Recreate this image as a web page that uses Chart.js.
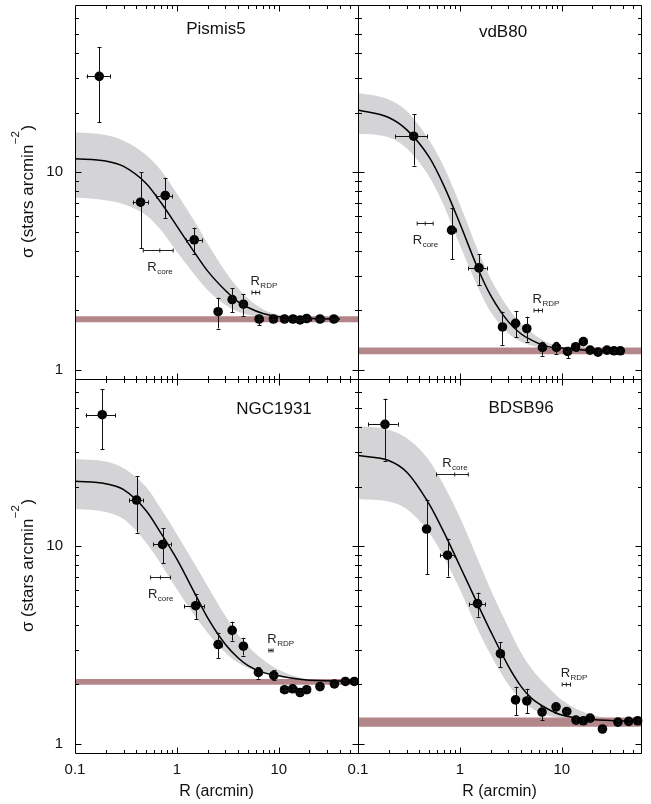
<!DOCTYPE html>
<html>
<head>
<meta charset="utf-8">
<script src="https://cdn.jsdelivr.net/npm/chart.js@4/dist/chart.umd.min.js"></script>
<style>
html,body{margin:0;padding:0;background:#fff;}
#wrap{position:relative;width:651px;height:804px;overflow:hidden;}
canvas{position:absolute;left:0;top:0;}
</style>
</head>
<body>
<div id="wrap">
<canvas id="c0" width="651" height="804"></canvas>
<canvas id="c1" width="651" height="804"></canvas>
<canvas id="c2" width="651" height="804"></canvas>
<canvas id="c3" width="651" height="804"></canvas>
</div>
<script>
// ---------- tick values ----------
const xMajor = [0.1, 1, 10];
const xMinor = [0.2,0.3,0.4,0.5,0.6,0.7,0.8,0.9,2,3,4,5,6,7,8,9,20,30,40,50];
const yMajor = [1, 10];
const yMinor = [2,3,4,5,6,7,8,9,20,30,40,50,60];

// ---------- fit radius grids ----------
const fitRTop = [0.1,0.2,0.3,0.5,0.7,1,1.5,2,3,4,5,7,10,20,40];
const fitRBot = [0.1,0.2,0.3,0.5,0.7,1,1.5,2,3,4,5,7,10,20,60];

// ---------- Pismis5 ----------
const p5R     = [0.173,0.44,0.769,1.48,2.54,3.49,4.5,6.41,8.87,11.4,13.8,16.2,18.8,25.4,34.8];
const p5Sig   = [30.5,7.05,7.62,4.55,1.97,2.27,2.15,1.81,1.81,1.81,1.81,1.79,1.82,1.81,1.81];
const p5SigHi = [43,9.96,9.36,5.24,2.32,2.59,2.42,1.90,1.88,1.87,1.86,1.84,1.86,1.84,1.84];
const p5SigLo = [17.9,4.12,5.84,3.85,1.62,1.96,1.88,1.69,1.74,1.75,1.76,1.74,1.78,1.78,1.78];
const p5RLo   = [0.130,0.368,0.630,1.24,2.40,3.30,4.30,5.85,8.10,10.4,12.6,14.8,17.2,23.2,31.8];
const p5RHi   = [0.220,0.523,0.906,1.77,2.70,3.70,4.70,7.02,9.70,12.5,15.1,17.7,20.6,27.8,38.1];
const p5Fit   = [11.7,11.4,10.7,8.77,7.0,5.34,3.91,3.17,2.52,2.21,2.07,1.93,1.86,1.82,1.81];
const p5FitHi = [15.9,15.4,14.4,12.2,10.2,7.8,5.61,4.36,3.14,2.59,2.3,2.03,1.9,1.83,1.81];
const p5FitLo = [7.45,7.22,6.89,6.06,5.09,3.96,3.02,2.54,2.13,1.97,1.9,1.85,1.82,1.81,1.81];
const p5Bg    = [1.74, 1.87];
const p5Core  = [0.468, 0.68, 0.92, 4.04];
const p5Rdp   = [5.46, 5.95, 6.5, 2.48];

// ---------- vdB80 ----------
const vdR     = [0.352,0.829,1.54,2.62,3.52,4.54,6.47,8.87,11.4,13.7,16.3,19.0,22.7,27.8,32.6,37.6];
const vdSig   = [15.2,5.09,3.28,1.65,1.72,1.62,1.30,1.30,1.24,1.31,1.39,1.26,1.23,1.26,1.25,1.25];
const vdSigHi = [19.6,6.56,3.85,1.97,1.99,1.86,1.39,1.39,1.31,1.37,1.43,1.29,1.26,1.28,1.27,1.27];
const vdSigLo = [10.8,3.62,2.69,1.34,1.46,1.39,1.18,1.21,1.15,1.25,1.35,1.22,1.20,1.24,1.23,1.23];
const vdRLo   = [0.231,0.757,1.21,2.62,3.52,4.54,5.95,8.15,10.5,13.7,16.3,19.0,22.7,27.8,32.6,37.6];
const vdRHi   = [0.478,0.908,1.83,2.62,3.52,4.54,7.05,9.65,12.4,13.7,16.3,19.0,22.7,27.8,32.6,37.6];
const vdFit   = [20.6,18.9,16.4,11.9,8.5,5.5,3.26,2.39,1.75,1.52,1.42,1.32,1.29,1.25,1.24];
const vdFitHi = [25.2,23.3,20.4,14.5,10.6,6.89,4.04,2.90,2.05,1.71,1.55,1.39,1.31,1.25,1.24];
const vdFitLo = [15.7,15.0,13.2,9.47,6.73,4.28,2.63,1.97,1.53,1.39,1.33,1.29,1.27,1.24,1.24];
const vdBg    = [1.20, 1.30];
const vdCore  = [0.381, 0.457, 0.547, 5.51];
const vdRdp   = [5.35, 5.9, 6.47, 2.01];

// ---------- NGC1931 ----------
const ngR     = [0.185,0.402,0.724,1.53,2.54,3.49,4.5,6.32,8.93,11.4,13.7,16.2,18.8,25.4,35.2,45.1,55.2];
const ngSig   = [46.2,17.1,10.2,5.0,3.18,3.75,3.12,2.30,2.22,1.88,1.90,1.82,1.88,1.95,2.01,2.07,2.07];
const ngSigHi = [62.1,22.6,12.3,5.71,3.65,4.15,3.44,2.44,2.36,1.95,1.97,1.88,1.94,2.0,2.05,2.1,2.1];
const ngSigLo = [30.9,11.7,8.2,4.26,2.72,3.33,2.8,2.14,2.11,1.81,1.83,1.76,1.82,1.9,1.97,2.04,2.04];
const ngRLo   = [0.127,0.341,0.586,1.18,2.35,3.49,4.5,5.8,8.2,10.4,12.5,15.0,17.5,24.0,33.5,43.0,53.0];
const ngRHi   = [0.247,0.461,0.867,1.85,2.75,3.49,4.5,6.9,9.7,12.4,15.0,17.4,20.2,26.9,37.0,47.2,57.5];
const ngFit   = [21.3,20.7,19.3,15.1,11.6,8.59,5.77,4.35,3.18,2.72,2.49,2.30,2.21,2.10,2.08];
const ngFitHi = [27.6,26.8,24.8,19.9,15.4,11.5,8.1,6.29,4.43,3.57,3.12,2.67,2.37,2.12,2.08];
const ngFitLo = [15.4,14.9,13.7,10.4,8.1,6.05,4.43,3.65,2.89,2.57,2.42,2.29,2.21,2.10,2.08];
const ngBg    = [1.99, 2.13];
const ngCore  = [0.552, 0.69, 0.867, 7.02];
const ngRdp   = [8.0, 8.4, 8.8, 3.0];

// ---------- BDSB96 ----------
const bdR     = [0.184,0.471,0.757,1.49,2.5,3.52,4.54,6.41,8.79,11.2,13.8,16.3,19.0,25.1,35.6,45.4,55.6];
const bdSig   = [41.3,12.2,9.0,5.12,2.86,1.67,1.65,1.45,1.54,1.46,1.32,1.31,1.35,1.19,1.29,1.30,1.31];
const bdSigHi = [55.7,17.2,10.9,5.82,3.27,1.95,1.90,1.56,1.61,1.52,1.37,1.36,1.40,1.22,1.32,1.33,1.34];
const bdSigLo = [27.1,7.21,7.02,4.4,2.44,1.40,1.43,1.32,1.43,1.38,1.27,1.26,1.30,1.16,1.26,1.27,1.28];
const bdRLo   = [0.126,0.471,0.637,1.23,2.32,3.52,4.54,6.0,8.3,10.6,13.8,16.3,19.0,23.8,35.6,45.4,55.6];
const bdRHi   = [0.245,0.471,0.879,1.76,2.7,3.52,4.54,6.85,9.3,11.8,13.8,16.3,19.0,26.4,35.6,45.4,55.6];
const bdFit   = [28.7,27.1,23.7,16.3,11.7,7.94,5.08,3.72,2.47,1.95,1.71,1.52,1.40,1.33,1.30];
const bdFitHi = [40.5,38.8,35.2,27.1,20.2,14.0,8.59,6.05,3.87,2.89,2.42,1.99,1.67,1.40,1.31];
const bdFitLo = [17.3,16.8,15.4,11.7,8.77,6.05,3.79,2.83,1.99,1.67,1.52,1.40,1.35,1.30,1.29];
const bdBg    = [1.22, 1.36];
const bdCore  = [0.59, 0.89, 1.21, 23.2];
const bdRdp   = [10.1, 11.1, 12.2, 2.01];

// ---------- styling ----------
const FONT = "'Liberation Sans', Arial, Helvetica, sans-serif";
const GRAY = '#d4d4d6';
const ROSE = '#b3878a';
const X_MIN = 0.1, X_MAX = 60, Y_MIN = 0.9, Y_MAX = 70;

const panels = [
  {id:'c0', area:[75,5,358,379], name:'Pismis5', titlePos:[216,33.5], fitR:fitRTop,
   R:p5R, sig:p5Sig, sigHi:p5SigHi, sigLo:p5SigLo, RLo:p5RLo, RHi:p5RHi,
   fit:p5Fit, fitHi:p5FitHi, fitLo:p5FitLo, bg:p5Bg, core:p5Core, rdp:p5Rdp,
   coreBelow:true, yLabels:true, xLabels:false},
  {id:'c1', area:[358,5,641,379], name:'vdB80', titlePos:[503,37], fitR:fitRTop,
   R:vdR, sig:vdSig, sigHi:vdSigHi, sigLo:vdSigLo, RLo:vdRLo, RHi:vdRHi,
   fit:vdFit, fitHi:vdFitHi, fitLo:vdFitLo, bg:vdBg, core:vdCore, rdp:vdRdp,
   coreBelow:true, yLabels:false, xLabels:false},
  {id:'c2', area:[75,379,358,753], name:'NGC1931', titlePos:[274,413.5], fitR:fitRBot,
   R:ngR, sig:ngSig, sigHi:ngSigHi, sigLo:ngSigLo, RLo:ngRLo, RHi:ngRHi,
   fit:ngFit, fitHi:ngFitHi, fitLo:ngFitLo, bg:ngBg, core:ngCore, rdp:ngRdp,
   coreBelow:true, yLabels:true, xLabels:true},
  {id:'c3', area:[358,379,641,753], name:'BDSB96', titlePos:[521,413], fitR:fitRBot,
   R:bdR, sig:bdSig, sigHi:bdSigHi, sigLo:bdSigLo, RLo:bdRLo, RHi:bdRHi,
   fit:bdFit, fitHi:bdFitHi, fitLo:bdFitLo, bg:bdBg, core:bdCore, rdp:bdRdp,
   coreBelow:false, yLabels:false, xLabels:true}
];

function subText(ctx, main, sub, x, y, align) {
  ctx.save();
  ctx.fillStyle = '#222';
  ctx.textBaseline = 'alphabetic';
  ctx.textAlign = 'left';
  const mf = '13px ' + FONT, sf = '8px ' + FONT;
  ctx.font = mf; const w1 = ctx.measureText(main).width;
  ctx.font = sf; const w2 = ctx.measureText(sub).width;
  let x0 = align === 'center' ? x - (w1 + w2) / 2 : x;
  ctx.font = mf; ctx.fillText(main, x0, y);
  ctx.font = sf; ctx.fillText(sub, x0 + w1 + 0.5, y + 3);
  ctx.restore();
}

function hbar(ctx, xs, ys, m) {
  const y = Math.round(ys.getPixelForValue(m[3])) + 0.5;
  const a = xs.getPixelForValue(m[0]), c = xs.getPixelForValue(m[1]), b = xs.getPixelForValue(m[2]);
  ctx.beginPath();
  ctx.moveTo(a, y); ctx.lineTo(b, y);
  ctx.moveTo(a, y - 2); ctx.lineTo(a, y + 2);
  ctx.moveTo(b, y - 2); ctx.lineTo(b, y + 2);
  ctx.moveTo(c, y - 2); ctx.lineTo(c, y + 2);
  ctx.stroke();
  return {a, b, c, y};
}

function makeDecor(p) {
  return {
    id: 'decor_' + p.id,
    afterDatasetsDraw(chart) {
      const {ctx, scales: {x, y}} = chart;
      ctx.save();
      ctx.strokeStyle = '#111';
      ctx.lineWidth = 1;
      // error bars
      for (let i = 0; i < p.R.length; i++) {
        const px = x.getPixelForValue(p.R[i]);
        const py = y.getPixelForValue(p.sig[i]);
        const t = y.getPixelForValue(p.sigHi[i]);
        const b = y.getPixelForValue(p.sigLo[i]);
        const cx = Math.round(px) + 0.5;
        ctx.beginPath();
        ctx.moveTo(cx, t); ctx.lineTo(cx, b);
        ctx.moveTo(cx - 2, Math.round(t) + 0.5); ctx.lineTo(cx + 2, Math.round(t) + 0.5);
        ctx.moveTo(cx - 2, Math.round(b) + 0.5); ctx.lineTo(cx + 2, Math.round(b) + 0.5);
        const l = x.getPixelForValue(p.RLo[i]);
        const r = x.getPixelForValue(p.RHi[i]);
        if (r - l > 1) {
          const cy = Math.round(py) + 0.5;
          ctx.moveTo(l, cy); ctx.lineTo(r, cy);
          ctx.moveTo(Math.round(l) + 0.5, cy - 2); ctx.lineTo(Math.round(l) + 0.5, cy + 2);
          ctx.moveTo(Math.round(r) + 0.5, cy - 2); ctx.lineTo(Math.round(r) + 0.5, cy + 2);
        }
        ctx.stroke();
      }
      // R_core and R_RDP markers
      ctx.strokeStyle = '#222';
      const core = hbar(ctx, x, y, p.core);
      if (p.coreBelow) subText(ctx, 'R', 'core', core.c, core.y + 20.5, 'center');
      else subText(ctx, 'R', 'core', core.c, core.y - 8, 'center');
      const rdp = hbar(ctx, x, y, p.rdp);
      subText(ctx, 'R', 'RDP', rdp.a - 1.5, rdp.y - 8, 'left');
      ctx.restore();
    },
    afterDraw(chart) {
      const {ctx, chartArea: A, scales: {x, y}} = chart;
      ctx.save();
      ctx.strokeStyle = '#000';
      ctx.lineWidth = 1;
      const L = Math.round(A.left) + 0.5, R = Math.round(A.right) + 0.5;
      const T = Math.round(A.top) + 0.5, B = Math.round(A.bottom) + 0.5;
      ctx.beginPath();
      ctx.moveTo(L, T); ctx.lineTo(R, T); ctx.lineTo(R, B); ctx.lineTo(L, B); ctx.closePath();
      const xt = (v, len) => {
        const px = Math.round(x.getPixelForValue(v)) + 0.5;
        ctx.moveTo(px, B); ctx.lineTo(px, B - len);
        ctx.moveTo(px, T); ctx.lineTo(px, T + len);
      };
      xMajor.forEach(v => { if (v > X_MIN) xt(v, 6); });
      xMinor.forEach(v => xt(v, 3.5));
      const yt = (v, len) => {
        const py = Math.round(y.getPixelForValue(v)) + 0.5;
        ctx.moveTo(L, py); ctx.lineTo(L + len, py);
        ctx.moveTo(R, py); ctx.lineTo(R - len, py);
      };
      yMajor.forEach(v => yt(v, 6));
      yMinor.forEach(v => yt(v, 3.5));
      ctx.stroke();
      // panel title
      ctx.fillStyle = '#111';
      ctx.font = '17px ' + FONT;
      ctx.textAlign = 'center';
      ctx.textBaseline = 'alphabetic';
      ctx.fillText(p.name, p.titlePos[0], p.titlePos[1]);
      // y-axis title
      if (p.yLabels) {
        const cy = (A.top + A.bottom) / 2;
        ctx.translate(28, cy);
        ctx.rotate(-Math.PI / 2);
        const mainF = '17px ' + FONT, supF = '11.5px ' + FONT;
        const s1 = '\u03C3 (stars arcmin', s2 = '\u22122', s3 = ')';
        ctx.font = mainF; const w1 = ctx.measureText(s1).width, w3 = ctx.measureText(s3).width;
        ctx.font = supF; const w2 = ctx.measureText(s2).width;
        let x0 = -(w1 + w2 + w3) / 2;
        ctx.textAlign = 'left';
        ctx.textBaseline = 'middle';
        ctx.font = mainF; ctx.fillText(s1, x0, 0);
        ctx.font = supF; ctx.fillText(s2, x0 + w1 + 0.5, -12);
        ctx.font = mainF; ctx.fillText(s3, x0 + w1 + w2 + 1, 0);
      }
      ctx.restore();
    }
  };
}

function makeChart(p) {
  const pad = {left: p.area[0] - 40, top: p.area[1], right: 651 - p.area[2], bottom: 804 - p.area[3] - 50};
  const xy = (xs, ys) => xs.map((v, i) => ({x: v, y: ys[i]}));
  const flat = (v) => [{x: X_MIN, y: v}, {x: X_MAX, y: v}];
  const base = {pointRadius: 0, borderWidth: 0, borderColor: 'transparent', cubicInterpolationMode: 'monotone'};
  new Chart(document.getElementById(p.id), {
    type: 'line',
    data: {
      datasets: [
        Object.assign({}, base, {data: xy(p.fitR, p.fitHi), fill: '+1', backgroundColor: GRAY, order: 4}),
        Object.assign({}, base, {data: xy(p.fitR, p.fitLo), fill: false, order: 4}),
        Object.assign({}, base, {data: flat(p.bg[1]), fill: '+1', backgroundColor: ROSE, order: 3}),
        Object.assign({}, base, {data: flat(p.bg[0]), fill: false, order: 3}),
        {data: xy(p.fitR, p.fit), borderColor: '#000', borderWidth: 1.5, pointRadius: 0, fill: false,
         cubicInterpolationMode: 'monotone', order: 2},
        {data: xy(p.R, p.sig), showLine: false, pointRadius: 4.8, pointBackgroundColor: '#000',
         pointBorderColor: '#000', pointBorderWidth: 0, pointHoverRadius: 4.8, order: 1, clip: 8}
      ]
    },
    options: {
      responsive: false, animation: false, devicePixelRatio: 1,
      layout: {padding: pad},
      events: [],
      plugins: {legend: {display: false}, tooltip: {enabled: false}},
      scales: {
        x: {
          type: 'logarithmic', position: 'bottom', min: X_MIN, max: X_MAX,
          afterBuildTicks: s => { s.ticks = xMajor.map(v => ({value: v})); },
          afterFit: s => { s.height = 50; s.paddingLeft = 0; s.paddingRight = 0; },
          grid: {display: false, drawTicks: false}, border: {display: false},
          ticks: {display: p.xLabels, padding: 8, color: '#111', maxRotation: 0, autoSkip: false,
                  font: {family: FONT, size: 15}, callback: v => String(v)},
          title: {display: p.xLabels, text: 'R (arcmin)', color: '#111',
                  font: {family: FONT, size: 16}, padding: {top: 0, bottom: 2}}
        },
        y: {
          type: 'logarithmic', position: 'left', min: Y_MIN, max: Y_MAX,
          afterBuildTicks: s => { s.ticks = yMajor.map(v => ({value: v})); },
          afterFit: s => { s.width = 40; s.paddingTop = 0; s.paddingBottom = 0; },
          grid: {display: false, drawTicks: false}, border: {display: false},
          ticks: {display: p.yLabels, padding: 12, color: '#111', autoSkip: false,
                  font: {family: FONT, size: 15}, callback: v => String(v)}
        }
      }
    },
    plugins: [makeDecor(p)]
  });
}

panels.forEach(makeChart);
</script>
</body>
</html>
